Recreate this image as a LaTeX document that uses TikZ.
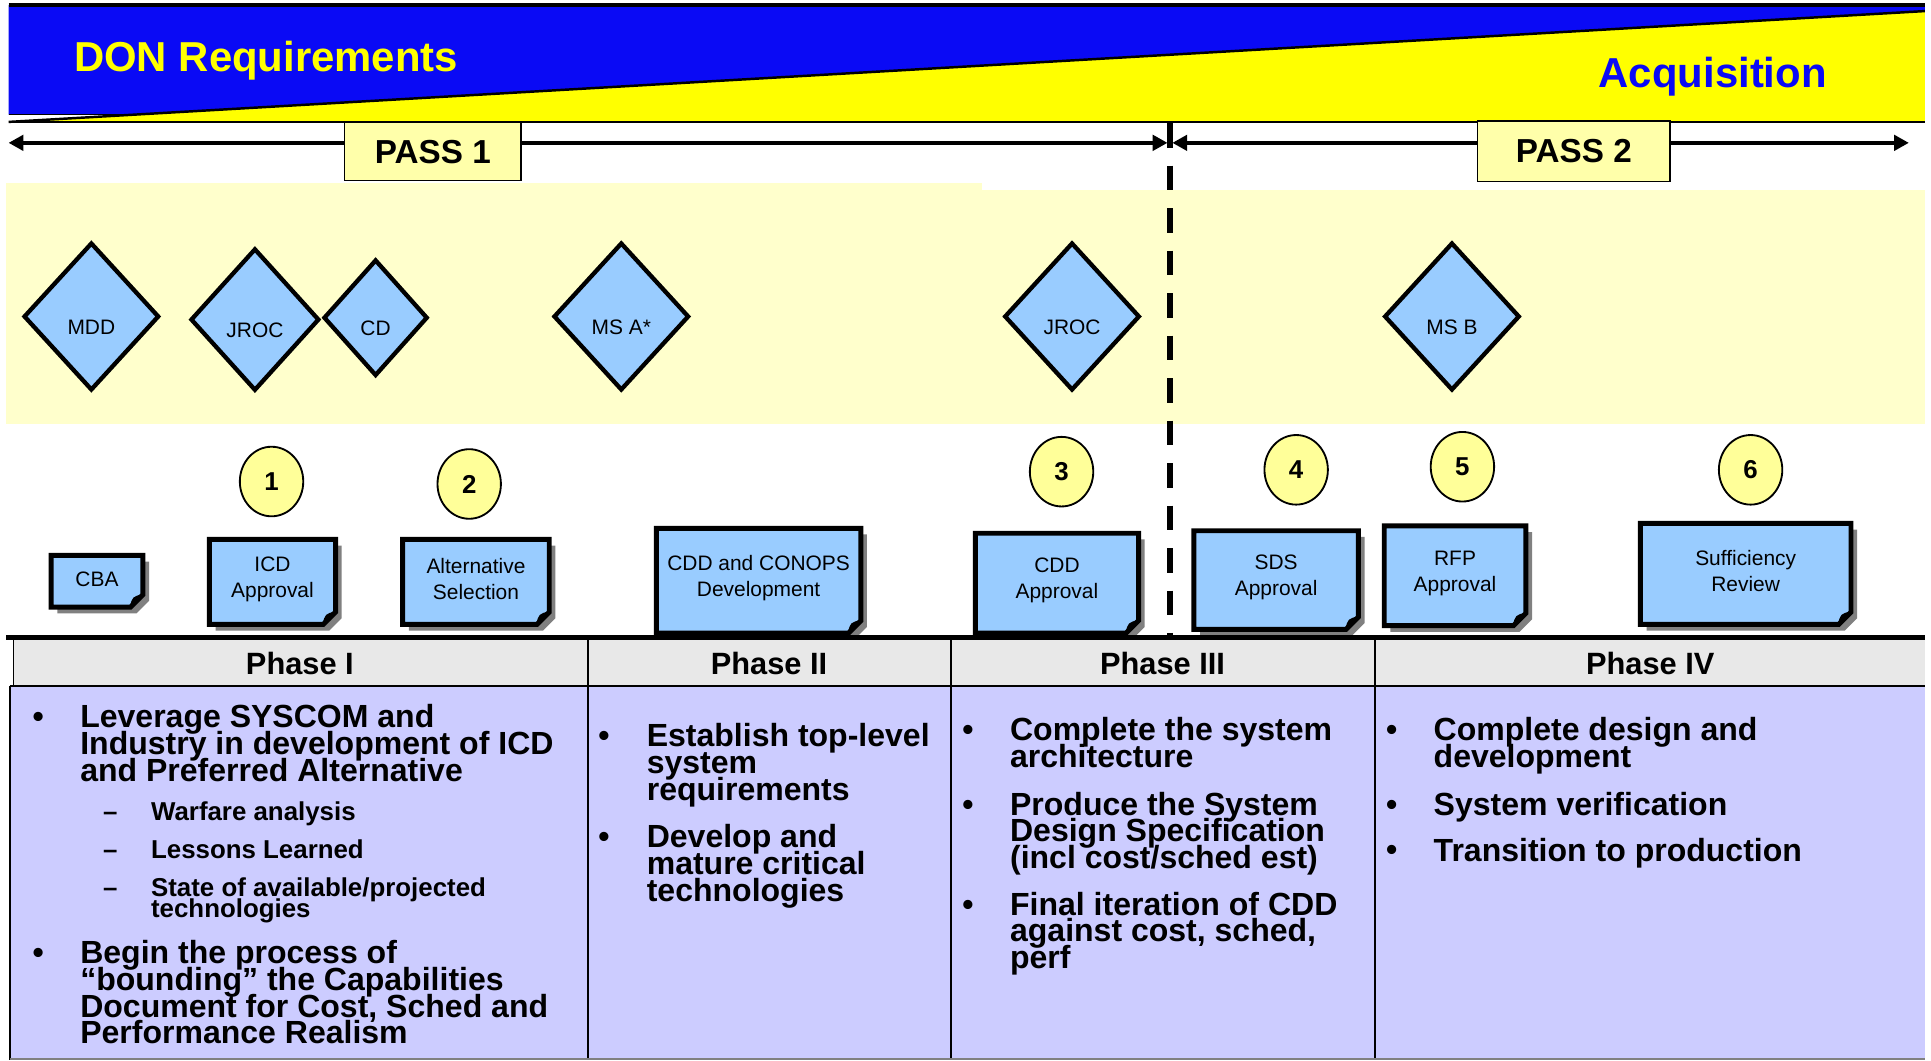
\documentclass[tikz,border=0pt]{standalone}
\usepackage{fontspec}
\setmainfont{Liberation Sans}
\usetikzlibrary{shapes.geometric,arrows.meta}
\definecolor{bannerblue}{RGB}{10,10,245}
\definecolor{banneryellow}{RGB}{255,255,0}
\definecolor{passfill}{RGB}{255,255,170}
\definecolor{bandc}{RGB}{255,255,204}
\definecolor{boxblue}{RGB}{153,204,255}
\definecolor{circfill}{RGB}{255,255,153}
\definecolor{headc}{RGB}{232,232,232}
\definecolor{bodyc}{RGB}{204,204,255}
\definecolor{shadowc}{RGB}{128,128,128}
\lineskiplimit=-100pt
\newcommand{\DocBox}[6]{%
  \fill[shadowc] ({#2+5},{#3+5}) -- ({#4+5},{#3+5}) -- ({#4+5},{#5-5}) -- ({#4-5},{#5+5}) -- ({#2+5},{#5+5}) -- cycle;
  \filldraw[boxline] (#2,#3) -- (#4,#3) -- (#4,{#5-10}) -- ({#4-10},#5) -- (#2,#5) -- cycle;
  \filldraw[fill=black, draw=black, line width=1.2pt, line join=round] ({#4-10},#5) .. controls ({#4-8},{#5-8}) .. (#4,{#5-10}) .. controls ({#4-5},{#5-4}) .. cycle;
  \node[boxtext] (#1) at ({(#2+#4)/2},{(#3+#5)/2}) {#6};
}
\begin{document}
\begin{tikzpicture}[x=1pt,y=-1pt,
  diam/.style={diamond, draw=black, line width=3.5pt, fill=boxblue, inner sep=0pt, text height=31pt, text depth=2pt, font={\fontsize{17}{20}\selectfont}},
  numc/.style={ellipse, draw=black, line width=1.5pt, fill=circfill, inner sep=0pt, minimum width=51.5pt, minimum height=56.5pt, font={\bfseries\fontsize{21}{21}\selectfont}},
  boxtext/.style={inner sep=0pt, align=center, font={\fontsize{17}{21}\selectfont\lineskiplimit=-100pt}, yshift=2pt},
  boxline/.style={fill=boxblue, draw=black, line width=4pt, line join=miter},
  passbox/.style={draw=black, line width=1pt, fill=passfill, inner sep=0pt, font={\bfseries\fontsize{27}{27}\selectfont}},
  passarrow/.style={line width=2.8pt, {Triangle[length=12pt,width=12.5pt]}-{Triangle[length=12pt,width=12.5pt]}},
  phasehead/.style={anchor=base, inner sep=0pt, font={\bfseries\fontsize{25}{25}\selectfont}},
  item/.style={anchor=north west, inner sep=0pt, align=left, font={\bfseries\fontsize{26}{21.7}\selectfont\lineskiplimit=-100pt}},
  subitem/.style={anchor=north west, inner sep=0pt, align=left, font={\bfseries\fontsize{21}{17.3}\selectfont\lineskiplimit=-100pt}},
  bul/.style={anchor=base, inner sep=0pt, font={\bfseries\fontsize{26}{26}\selectfont}},
  subbul/.style={anchor=base, inner sep=0pt, font={\bfseries\fontsize{21}{21}\selectfont}}
]
\useasboundingbox (0,0) rectangle (1568,861);
\fill[white] (0,0) rectangle (1568,861);

% pale band
\fill[bandc] (5,149) rectangle (797,344);
\fill[bandc] (797,154) rectangle (1563,344);

% banner
\fill[bannerblue] (7,4) -- (1563,4) -- (1563,9) -- (110.7,93) -- (7,93) -- cycle;
\fill[banneryellow] (7,99) -- (1563,9) -- (1563,99) -- cycle;
\draw[line width=3pt] (7,4) -- (1563,4);
\draw[line width=2pt] (7,99) -- (1563,9);
\draw[line width=1.5pt] (7,99) -- (1563,99);
\draw[line width=1.5pt] (7,93) -- (110.7,93);
\node[anchor=base west, inner sep=0pt, text=banneryellow, font={\bfseries\fontsize{34}{34}\selectfont}] (donreq) at (60,58.2) {DON Requirements};
\node[anchor=base west, inner sep=0pt, text=bannerblue, font={\bfseries\fontsize{34}{34}\selectfont}] (acq) at (1298,71) {Acquisition};

% divider
\coordinate (dv0) at (950,100);
\coordinate (dv3) at (950,518);
\draw[line width=4.5pt, dash pattern=on 20pt off 14.5pt] (dv0) -- (dv3);

% pass arrows
\coordinate (aL) at (7,116);
\coordinate (aM1) at (948,116);
\coordinate (aM2) at (952,116);
\coordinate (aR) at (1550,116);
\draw[passarrow] (aL) -- (aM1);
\draw[passarrow] (aM2) -- (aR);
\node[passbox, minimum width=143pt, minimum height=47pt] (pass1) at (351.5,123.2) {PASS 1};
\node[passbox, minimum width=156pt, minimum height=49pt] (pass2) at (1278,122.7) {PASS 2};

% diamonds
\node[diam, minimum width=110pt, minimum height=120pt] (mdd) at (74.2,257) {MDD};
\node[diam, minimum width=104.5pt, minimum height=115.5pt] (jroc1) at (207,259.5) {JROC};
\node[diam, minimum width=84.5pt, minimum height=94.5pt] (cd) at (305,258) {CD};
\node[diam, minimum width=110pt, minimum height=120pt] (msa) at (504.5,257) {MS A*};
\node[diam, minimum width=110pt, minimum height=120pt] (jroc2) at (870.5,257) {JROC};
\node[diam, minimum width=110pt, minimum height=120pt] (msb) at (1179,257) {MS B};

% numbered circles
\node[numc] (n1) at (220.5,391) {1};
\node[numc] (n2) at (381,393) {2};
\node[numc] (n3) at (862,383) {3};
\node[numc] (n4) at (1052.5,381.5) {4};
\node[numc] (n5) at (1187.5,379) {5};
\node[numc] (n6) at (1421.5,381.5) {6};

% document boxes
\DocBox{cba}{41.5}{451}{116}{493}{CBA}
\DocBox{icd}{170}{438}{272.5}{507}{ICD\\Approval}
\DocBox{alt}{327}{438}{446}{507}{Alternative\\Selection}
\DocBox{cddc}{533}{429}{699}{514}{CDD and CONOPS\\Development}
\DocBox{cdda}{792}{433}{924.5}{514}{CDD\\Approval}
\DocBox{sds}{969.5}{431}{1103}{511}{SDS\\Approval}
\DocBox{rfp}{1124}{427}{1239}{508}{RFP\\Approval}
\DocBox{suff}{1332}{425}{1503}{507}{Sufficiency\\Review}

% table
\fill[headc] (11,520) rectangle (1563,557);
\fill[bodyc] (8,557) rectangle (1563,861);
\draw[line width=4pt] (5,518) -- (1563,518);
\draw[line width=1.5pt] (11,520) -- (11,557);
\draw[line width=1.5pt] (8,557) -- (8,861);
\draw[line width=2pt] (8,557) -- (1563,557);
\draw[line width=1.5pt] (477.5,520) -- (477.5,861);
\draw[line width=1.5pt] (772,520) -- (772,861);
\draw[line width=1.5pt] (1116.5,520) -- (1116.5,861);
\draw[shadowc, line width=1pt] (8,860) -- (1563,860);

\node[phasehead] (ph1) at (243.5,548) {Phase I};
\node[phasehead] (ph2) at (624.5,548) {Phase II};
\node[phasehead] (ph3) at (944,548) {Phase III};
\node[phasehead] (ph4) at (1340,548) {Phase IV};

% Phase I
\node[bul] (p1b1) at (31,590.6) {•};
\node[item] (p1t1) at (65,570.6) {\rule{0pt}{20pt}Leverage SYSCOM and\\Industry in development of ICD\\and Preferred Alternative};
\node[subbul] (p1s1) at (89.5,665.9) {–};
\node[subitem] (p1u1) at (122.5,649.9) {\rule{0pt}{16pt}Warfare analysis};
\node[subbul] (p1s2) at (89.5,697) {–};
\node[subitem] (p1u2) at (122.5,681) {\rule{0pt}{16pt}Lessons Learned};
\node[subbul] (p1s3) at (89.5,727.6) {–};
\node[subitem] (p1u3) at (122.5,711.6) {\rule{0pt}{16pt}State of available/projected\\technologies};
\node[bul] (p1b2) at (31,782.3) {•};
\node[item] (p1t2) at (65,762.3) {\rule{0pt}{20pt}Begin the process of\\“bounding” the Capabilities\\Document for Cost, Sched and\\Performance Realism};

% Phase II
\node[bul] (p2b1) at (490.5,606.3) {•};
\node[item] (p2t1) at (525,586.3) {\rule{0pt}{20pt}Establish top-level\\system\\requirements};
\node[bul] (p2b2) at (490.5,688.3) {•};
\node[item] (p2t2) at (525,668.3) {\rule{0pt}{20pt}Develop and\\mature critical\\technologies};

% Phase III
\node[bul] (p3b1) at (786,601.4) {•};
\node[item] (p3t1) at (820,581.4) {\rule{0pt}{20pt}Complete the system\\architecture};
\node[bul] (p3b2) at (786,661.8) {•};
\node[item] (p3t2) at (820,641.8) {\rule{0pt}{20pt}Produce the System\\Design Specification\\(incl cost/sched est)};
\node[bul] (p3b3) at (786,743) {•};
\node[item] (p3t3) at (820,723) {\rule{0pt}{20pt}Final iteration of CDD\\against cost, sched,\\perf};

% Phase IV
\node[bul] (p4b1) at (1130,601.4) {•};
\node[item] (p4t1) at (1164,581.4) {\rule{0pt}{20pt}Complete design and\\development};
\node[bul] (p4b2) at (1130,661.8) {•};
\node[item] (p4t2) at (1164,641.8) {\rule{0pt}{20pt}System verification};
\node[bul] (p4b3) at (1130,699) {•};
\node[item] (p4t3) at (1164,679) {\rule{0pt}{20pt}Transition to production};
\end{tikzpicture}
\end{document}
